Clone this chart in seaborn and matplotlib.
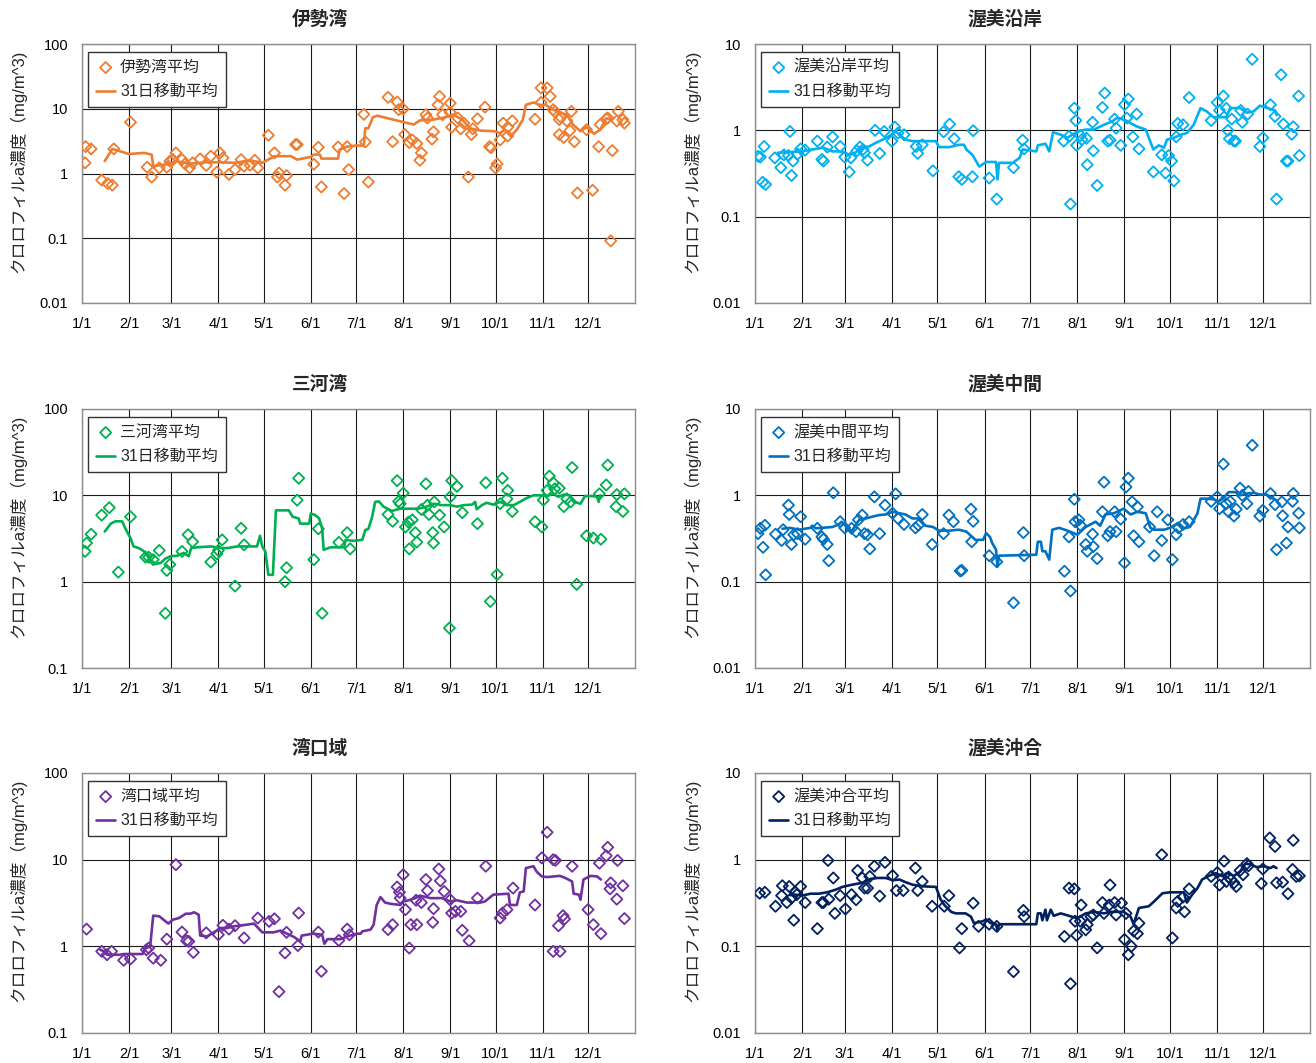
import matplotlib
matplotlib.use("Agg")
import matplotlib.pyplot as plt
import seaborn as sns
import pandas as pd
import numpy as np
from matplotlib.ticker import FixedLocator, NullLocator, FixedFormatter

# ---- data (day of year from 1/1, chlorophyll-a mg/m^3) ----
month_days = [0, 31, 59, 90, 120, 151, 181, 212, 243, 273, 304, 334]
month_labels = ['1/1', '2/1', '3/1', '4/1', '5/1', '6/1', '7/1', '8/1', '9/1', '10/1', '11/1', '12/1']

# 伊勢湾
ise_day = [2, 2.4, 6, 13, 17, 20, 21, 32, 43, 46, 51, 56, 58, 60, 62, 66, 68, 71, 73, 78, 82, 85, 89, 91, 93, 97,
           101, 105, 107, 111, 114, 116, 123, 127, 129, 130, 134, 135, 141, 142, 153, 156, 158, 169, 173, 175, 176,
           186, 187, 189, 202, 205, 208, 209, 212, 213, 216, 218, 221, 223, 224, 227, 228, 231, 232, 235, 236, 238,
           243, 243, 244, 248, 250, 252, 255, 257, 258, 261, 266, 269, 270, 273, 274, 276, 278, 281, 281, 284, 299,
           303, 303, 307, 309, 311, 312, 315, 315, 316, 318, 320, 322, 323, 325, 327, 333, 337, 341, 342, 346, 347,
           349, 350, 353, 354, 357, 358]
ise_val = [1.46, 2.6, 2.4, 0.79, 0.70, 0.66, 2.4, 6.2, 1.25, 0.88, 1.22, 1.25, 1.55, 1.64, 2.08, 1.64, 1.41, 1.22,
           1.46, 1.68, 1.33, 1.85, 1.05, 2.08, 1.74, 0.97, 1.15, 1.64, 1.30, 1.34, 1.6, 1.22, 3.9, 2.08, 0.88, 1.02,
           0.66, 0.93, 2.8, 2.8, 1.39, 2.54, 0.62, 2.57, 0.49, 2.6, 1.15,
           8.2, 3.07, 0.74, 15, 3.1, 12.7, 9.7, 9.9, 4.0, 3.0, 3.3, 2.9, 1.6, 2.08, 8.1, 7.2, 3.4, 4.4, 11.5, 15.5, 8.1,
           12.2, 8.8, 5.2, 7.2, 4.9, 6.0, 0.88, 4.0, 4.9, 7.0, 10.6, 2.6, 2.5, 1.22, 1.41, 3.3, 6.0, 5.2, 3.8, 6.5, 6.9,
           21, 12.5, 21, 15.5, 9.7, 9.0, 6.8, 4.0, 7.4, 3.6, 6.5, 4.6, 9.1, 3.1, 0.5, 4.75, 0.55, 2.6, 5.7, 7.0, 7.2,
           0.091, 2.26, 6.5, 9.1, 6.8, 6.0]
ise_ma_day = [15, 20, 31, 41, 46, 47, 56, 62, 71, 82, 91, 101, 111, 119, 127, 138, 142, 151, 153, 157, 158, 169, 170,
              175, 181, 186, 187, 189, 192, 195, 201, 210, 219, 223, 232, 240, 245, 251, 256, 263, 272, 276, 279, 283,
              287, 291, 293, 298, 302, 306, 311, 316, 320, 324, 329, 333, 338, 342, 346, 350]
ise_ma_val = [1.55, 2.4, 2.0, 2.08, 1.96, 1.3, 1.38, 1.55, 1.42, 1.49, 1.49, 1.46, 1.6, 1.46, 1.85, 1.85, 1.64, 1.8,
              1.96, 1.96, 1.7, 1.7, 2.34, 2.6, 2.7, 2.7, 5.0, 5.0, 7.4, 7.8, 7.2, 6.4, 5.7, 6.6, 6.8, 7.4, 8.1, 6.8,
              5.0, 4.6, 4.5, 4.2, 4.8, 3.75, 4.75, 6.8, 11.5, 12.5, 11.5, 11.5, 9.7, 8.6, 8.1, 5.7, 4.5, 5.2, 4.1,
              4.75, 7.1, 6.8]

# 渥美沿岸
engan_day = [2, 3.5, 5, 6, 7, 13, 17, 19, 22, 23, 24, 25, 28, 30, 33, 41, 44, 45, 47.5, 51, 56, 59, 62, 63, 67, 69,
             71, 72, 74, 79, 82, 85, 90, 92, 94, 98, 106, 107, 110, 117, 124, 128, 131, 134, 136, 143, 143.5, 154,
             159, 170, 176, 177,
             203, 206.5, 207.5, 210, 211, 211.5, 214, 215, 218, 218.5, 222, 222.5, 225, 228.5, 230, 232, 233.5,
             236.5, 237.5, 240.5, 243, 244.5, 245.5, 248.5, 251, 252.5, 262, 267.5, 270, 272, 274, 275.5, 277, 278,
             281.5, 285.5, 300, 304, 305.5, 308, 310, 311, 312, 313.5, 315, 316, 319.5, 320.5, 324, 327, 332, 334,
             339, 342, 343, 346, 347.5, 349.5, 350.5, 353, 354, 357.5, 358]
engan_val = [0.50, 0.49, 0.25, 0.65, 0.236, 0.48, 0.37, 0.52, 0.51, 0.97, 0.30, 0.44, 0.53, 0.61, 0.59, 0.75, 0.46,
             0.44, 0.64, 0.84, 0.65, 0.49, 0.33, 0.48, 0.58, 0.64, 0.6, 0.55, 0.45, 1.0, 0.54, 0.97, 0.75, 1.09, 0.93,
             0.89, 0.65, 0.54, 0.68, 0.34, 0.96, 1.18, 0.8, 0.29, 0.27, 0.29, 0.99, 0.28, 0.16, 0.37, 0.77, 0.61,
             0.75, 0.85, 0.14, 1.81, 1.3, 0.67, 0.87, 0.78, 0.81, 0.40, 1.24, 0.58, 0.23, 1.84, 2.7, 0.75, 0.77,
             1.35, 1.06, 0.67, 1.98, 1.39, 2.3, 0.84, 1.54, 0.61, 0.33, 0.52, 0.32, 0.51, 0.44, 0.26, 0.84, 1.2,
             1.16, 2.4, 1.3, 2.1, 1.7, 2.5, 1.8, 1.0, 0.8, 1.35, 0.75, 0.75, 1.7, 1.24, 1.54, 6.65, 0.65, 0.82,
             1.98, 1.45, 0.16, 4.4, 1.18, 0.44, 0.44, 0.9, 1.1, 2.5, 0.51]
engan_ma_day = [15, 31, 40, 45, 51, 57, 62, 66, 70, 75, 79, 84, 88, 92.5, 95, 99, 103.5, 119, 121, 128, 134, 137.5,
                139, 143, 147.5, 152, 158.5, 159.5, 160.5, 169.5, 174, 176, 185, 186, 191, 193.5, 196, 201, 205.5,
                212, 217.5, 223, 229.5, 235, 238, 243, 247, 251, 257, 259, 262, 265.5, 269, 271, 275.5, 280, 284,
                288.5, 293, 297, 301.5, 310, 312.5, 319, 323.5, 328, 332, 337, 342, 343]
engan_ma_val = [0.55, 0.57, 0.61, 0.63, 0.57, 0.57, 0.52, 0.55, 0.63, 0.65, 0.71, 0.78, 0.85, 0.97, 0.89, 0.78,
                0.75, 0.75, 0.64, 0.64, 0.68, 0.68, 0.6, 0.52, 0.38, 0.43, 0.43, 0.27, 0.42, 0.42, 0.48, 0.6, 0.57,
                0.67, 0.7, 0.57, 0.95, 0.89, 0.82, 0.97, 1.02, 1.02, 1.16, 1.27, 1.39, 1.33, 1.21, 1.11, 1.02, 0.82,
                0.6, 0.67, 0.63, 0.78, 0.82, 0.89, 0.93, 1.16, 1.81, 1.66, 1.42, 1.42, 1.81, 1.81, 1.6, 1.66, 1.93,
                1.81, 1.7, 1.5]

# 三河湾
mikawa_day = [2, 3, 6, 13, 18, 24, 32, 42, 44, 47, 51, 55, 56, 58, 66, 70, 73, 85, 89, 90, 92.5, 101, 105, 107, 134,
              135, 142, 143, 153, 156, 158.5, 169.5, 175, 177,
              202, 205, 208, 209, 210, 212, 213.5, 215.5, 216, 218, 220, 221, 224, 227, 228, 229, 231.5, 232, 232.5,
              236, 239, 242.5, 243, 244, 247.5, 251, 261, 266.5, 269.5, 274, 276, 277.5, 280.5, 281, 284, 299,
              303.5, 304.5, 307, 308.5, 311, 312, 315, 318, 320, 322.5, 323.5, 326.5, 333, 337.5, 341.5, 342.5, 346,
              347, 352.5, 353, 357, 358]
mikawa_val = [2.24, 2.8, 3.55, 5.9, 7.2, 1.29, 5.65, 1.92, 1.92, 1.8, 2.3, 0.43, 1.35, 1.58, 2.24, 3.5, 2.9, 1.69, 2.1,
              2.3, 3.05, 0.89, 4.15, 2.67, 1.0, 1.45, 8.8, 15.8, 1.8, 4.1, 0.43, 2.85, 3.7, 2.4,
              6.0, 5.0, 14.8, 8.5, 8.0, 10.6, 4.3, 4.9, 2.4, 5.2, 3.7, 2.87, 6.85, 13.6, 7.7, 6.0, 3.7, 2.8, 8.4, 5.9,
              4.3, 0.29, 9.6, 14.8, 12.7, 6.3, 4.7, 14, 0.59, 1.21, 8.0, 15.8, 9.1, 11.4, 6.5, 4.95, 4.3, 8.8, 11.4,
              16.7, 14, 11.9, 12.1, 7.4, 9.1, 8.4, 21, 0.93, 3.4, 3.2, 10.4, 3.1, 13.2, 22.4, 7.4, 10.2, 6.5, 10.4]
mikawa_ma_day = [15, 19, 22, 26.5, 29, 32, 34, 37.5, 41, 45, 48.5, 52, 55, 58.5, 63, 67, 70.5, 72, 76, 85, 91.5, 96,
                 102.5, 115.5, 117.5, 119, 121, 123, 126, 128, 136.5, 139, 143, 144, 150, 151, 154, 156.5, 158.5,
                 159.5, 164, 173, 174, 179, 185, 187, 189, 191.5, 193.5, 196, 199, 204.5, 210, 222, 227.5, 232,
                 237.5, 243, 247.5, 252, 257.5, 259.5, 260.5, 264, 267, 271.5, 276, 280.5, 285, 289, 293.5, 298,
                 302.5, 307, 311, 314.5, 318, 322, 324.5, 329, 332, 337.5, 340, 341, 342]
mikawa_ma_val = [3.8, 4.7, 5.0, 5.0, 4.0, 3.2, 2.56, 2.45, 2.24, 1.8, 1.6, 1.65, 1.85, 1.97, 2.0, 2.15, 1.97, 2.45,
                 2.5, 2.56, 2.45, 2.45, 2.56, 2.56, 3.4, 2.56, 2.24, 1.2, 1.2, 6.7, 6.7, 5.65, 5.4, 4.7, 4.7, 6.15,
                 5.9, 5.4, 4.15, 2.34, 2.5, 2.5, 3.05, 2.97, 3.05, 3.97, 4.07, 5.65, 8.4, 8.5, 7.4, 6.6, 7.0, 7.0,
                 7.4, 8.0, 7.7, 7.7, 7.4, 7.7, 7.8, 8.4, 6.9, 7.7, 8.2, 7.8, 8.4, 7.7, 7.7, 8.4, 9.3, 10.0, 10.0, 9.8,
                 10.4, 9.6, 10.2, 10.0, 8.4, 8.0, 9.8, 9.8, 9.6, 8.4, 10.0]

# 渥美中間
chukan_day = [2, 3.5, 5.3, 6.5, 7, 13.5, 17.5, 18.5, 22, 22.5, 24, 25.5, 28, 30, 33, 41, 44, 45, 47.5, 48.5, 51.5,
              56, 59, 63.5, 66.5, 68, 70.5, 72, 74, 75.5, 78.5, 82, 85.5, 90.5, 92.5, 94, 98, 105.5, 107.5, 110,
              116.5, 124, 127.5, 130.5, 135, 136, 142, 142.5, 143.5, 154, 159, 170, 176.5, 177,
              203.5, 206.5, 207.5, 210, 210.5, 213, 214, 217.5, 218.5, 222, 222.5, 225, 228.5, 229.5, 232, 233.5,
              236.5, 237.5, 240.5, 243, 244, 245.5, 248, 249, 251.5, 252.5, 259.5, 262.5, 264.5, 267.5, 271.5,
              274.5, 277, 278.5, 281.5, 285.5, 300, 304, 305.5, 308, 310, 311.5, 312.5, 315, 316.5, 319, 320.5,
              323.5, 324.5, 327, 332, 334, 339, 342, 343, 346.5, 347, 349.5, 350.5, 353.5, 354, 357.5, 358]
chukan_val = [0.36, 0.415, 0.25, 0.45, 0.12, 0.355, 0.30, 0.40, 0.77, 0.60, 0.27, 0.35, 0.36, 0.565, 0.31, 0.415,
              0.33, 0.31, 0.27, 0.175, 1.07, 0.495, 0.42, 0.415, 0.38, 0.52, 0.59, 0.36, 0.35, 0.24, 0.96, 0.36,
              0.77, 0.62, 1.04, 0.54, 0.46, 0.42, 0.45, 0.6, 0.27, 0.36, 0.59, 0.495, 0.133, 0.135, 0.69, 0.29, 0.5,
              0.2, 0.17, 0.057, 0.37, 0.2,
              0.132, 0.33, 0.078, 0.9, 0.495, 0.52, 0.45, 0.27, 0.225, 0.355, 0.255, 0.185, 0.645, 1.42, 0.34, 0.38,
              0.645, 0.38, 0.53, 0.165, 1.25, 1.58, 0.84, 0.34, 0.735, 0.29, 0.43, 0.2, 0.645, 0.30, 0.52, 0.18,
              0.35, 0.42, 0.46, 0.495, 0.85, 0.96, 0.70, 2.3, 0.80, 0.645, 0.85, 0.575, 0.69, 1.21, 1.0, 0.80, 1.11,
              3.8, 0.575, 0.67, 1.05, 0.78, 0.235, 0.84, 0.58, 0.28, 0.43, 0.85, 1.05, 0.62, 0.42]
chukan_ma_day = [18, 23, 29, 36.5, 37.5, 40, 44, 51, 55, 57, 62, 64, 66, 68.5, 73, 77, 81.5, 86, 90.5, 95, 99, 103.5,
                 108, 112, 117, 121, 128, 134, 139, 142, 145, 150, 152, 154.5, 156, 158.5, 159.5, 160.5, 185, 186,
                 188, 189, 191, 193.5, 195.5, 200, 205.5, 212, 217.5, 224, 227, 230.5, 236, 242.5, 247, 251.5, 257,
                 260, 262.5, 269, 273, 277.5, 282, 286, 291, 293, 297, 301.5, 305, 308, 311.5, 316, 319, 324, 328,
                 332, 336.5, 341, 343]
chukan_ma_val = [0.41, 0.42, 0.40, 0.42, 0.445, 0.415, 0.42, 0.43, 0.46, 0.495, 0.40, 0.39, 0.45, 0.52, 0.54, 0.565,
                 0.59, 0.60, 0.645, 0.62, 0.60, 0.54, 0.54, 0.445, 0.43, 0.39, 0.39, 0.40, 0.38, 0.34, 0.305, 0.305,
                 0.365, 0.33, 0.28, 0.235, 0.15, 0.2, 0.205, 0.29, 0.29, 0.225, 0.225, 0.18, 0.40, 0.42, 0.39, 0.35,
                 0.43, 0.495, 0.445, 0.60, 0.62, 0.70, 0.60, 0.645, 0.62, 0.42, 0.40, 0.40, 0.42, 0.47, 0.415, 0.43,
                 0.62, 0.915, 0.915, 0.90, 0.85, 0.93, 1.09, 1.09, 1.0, 1.05, 1.07, 1.02, 1.02, 0.915, 0.875]

# 湾口域
wankou_day = [3, 13, 16.5, 19.5, 27.5, 32, 42.5, 44, 47, 52, 56, 62, 66, 69, 70.5, 73.5, 82, 90, 93, 97, 101, 107,
              116, 123.5, 127, 130, 134, 135, 142.5, 143, 156, 158, 169.5, 175, 176.5,
              202, 205, 208, 209.5, 210, 212, 213.5, 216, 217, 220.5, 221, 224, 227, 228, 231.5, 232, 235.5, 236.5,
              239, 243, 244, 246.5, 250, 251, 255.5, 261, 266.5, 276, 277.5, 280.5, 284.5, 299, 303.5, 307, 311,
              311, 312.5, 314.5, 315.5, 317.5, 318.5, 323.5, 334, 337.5, 341.5, 342.5, 346, 347, 348.5, 349, 353,
              353.5, 357, 358]
wankou_val = [1.58, 0.875, 0.80, 0.875, 0.69, 0.715, 0.915, 0.955, 0.73, 0.69, 1.21, 8.75, 1.46, 1.16, 1.14, 0.85,
              1.43, 1.36, 1.75, 1.58, 1.73, 1.25, 2.12, 1.94, 2.08, 0.30, 0.84, 1.45, 1.02, 2.42, 1.46, 0.515, 1.17,
              1.58, 1.36,
              1.56, 1.78, 4.84, 4.2, 3.6, 6.7, 2.65, 0.955, 1.78, 3.4, 1.78, 3.2, 5.9, 4.4, 1.89, 2.72, 7.8, 5.7,
              4.3, 3.45, 2.42, 2.53, 2.53, 1.53, 1.16, 3.6, 8.4, 2.12, 2.42, 2.65, 4.7, 3.0, 10.5, 20.7, 10.0,
              0.875, 9.8, 1.73, 0.875, 2.26, 2.07, 8.4, 2.65, 1.78, 9.1, 1.4, 11.1, 13.9, 4.6, 5.4, 3.5, 9.8, 5.0,
              2.09]
wankou_ma_day = [12, 14.5, 16.5, 24.5, 27.5, 40, 42, 45, 47, 51, 57, 60, 64, 68.5, 71.5, 74, 77, 78, 82.5, 87, 91.5,
                 96, 100, 109, 113.5, 119, 126.5, 131, 140, 144, 145, 152.5, 158.5, 160, 162, 170.5, 175, 181.5,
                 184, 185, 190.5, 192.5, 194.5, 197, 200, 203.5, 210, 212, 215.5, 220, 223, 230, 237.5, 243, 247.5,
                 254, 263, 266, 271.5, 281.5, 282.5, 287, 289, 291.5, 293, 298, 300, 303.5, 307, 315.5, 319, 323.5,
                 324.5, 328, 329, 331, 335.5, 340, 342.5]
wankou_ma_val = [0.915, 0.875, 0.80, 0.80, 0.815, 0.815, 0.955, 1.0, 2.26, 2.22, 1.83, 2.03, 2.12, 2.38, 2.38, 2.47,
                 2.32, 1.33, 1.30, 1.45, 1.63, 1.63, 1.70, 1.78, 1.83, 1.45, 1.45, 1.52, 1.28, 1.14, 1.33, 1.40,
                 1.36, 1.07, 1.21, 1.21, 1.30, 1.40, 1.40, 1.49, 1.56, 1.78, 3.0, 3.7, 3.2, 3.1, 3.0, 3.3, 3.4, 3.6,
                 3.85, 3.6, 3.6, 3.3, 3.4, 3.2, 3.2, 3.3, 3.95, 4.05, 3.0, 3.0, 4.2, 4.3, 8.0, 8.4, 7.3, 6.4, 6.3,
                 6.5, 6.15, 5.6, 4.05, 3.95, 3.45, 5.9, 6.5, 6.4, 5.9]

# 渥美沖合
okiai_day = [3, 6.5, 13.5, 17.5, 18, 21, 22.5, 24, 25.5, 26.5, 27.5, 30, 33, 41, 44, 45, 48, 48.5, 51.5, 52.5, 56,
             59.5, 63.5, 66.5, 67.5, 70.5, 72, 74, 75.5, 78.5, 82, 85.5, 90.5, 93, 97.5, 105.5, 107, 110, 116.5,
             124.5, 127.5, 134.5, 136, 143.5, 147, 154, 159, 170, 176.5, 177,
             203.5, 206.5, 207.5, 210, 210.5, 211.5, 214, 214.5, 217.5, 218.5, 221, 222.5, 225, 228.5, 229.5, 233,
             233.5, 236.5, 237.5, 241, 243, 244, 245.5, 247.5, 249, 251.5, 252.5, 267.5, 274.5, 277, 278, 281.5,
             282.5, 285.5, 300, 304, 305.5, 308.5, 310, 311.5, 313, 315, 316.5, 319, 321, 323.5, 324.5, 333, 334,
             338.5, 342, 343, 347, 350.5, 353.5, 354, 356, 358]
okiai_val = [0.41, 0.42, 0.29, 0.385, 0.50, 0.32, 0.49, 0.36, 0.20, 0.42, 0.395, 0.49, 0.32, 0.16, 0.32, 0.32, 0.98,
             0.35, 0.615, 0.24, 0.385, 0.27, 0.395, 0.345, 0.75, 0.615, 0.47, 0.47, 0.64, 0.84, 0.38, 0.93, 0.655,
             0.44, 0.44, 0.80, 0.44, 0.56, 0.29, 0.29, 0.385, 0.096, 0.16, 0.315, 0.17, 0.18, 0.17, 0.051, 0.26,
             0.22,
             0.13, 0.47, 0.037, 0.46, 0.195, 0.134, 0.195, 0.30, 0.155, 0.178, 0.22, 0.23, 0.096, 0.32, 0.24, 0.30,
             0.51, 0.32, 0.23, 0.315, 0.12, 0.24, 0.08, 0.1, 0.15, 0.14, 0.185, 1.14, 0.125, 0.277, 0.33, 0.37,
             0.25, 0.46, 0.64, 0.71, 0.51, 0.96, 0.56, 0.63, 0.59, 0.54, 0.49, 0.75, 0.67, 0.90, 0.85, 0.53, 0.78,
             1.78, 1.42, 0.54, 0.55, 0.405, 0.77, 1.67, 0.64, 0.65]
okiai_ma_day = [23, 26.5, 31, 36.5, 42, 47.5, 53, 57.5, 64, 70.5, 76, 80.5, 86, 90.5, 95, 99, 103.5, 108, 112.5, 119,
                122, 124.5, 129, 132, 138.5, 142, 144, 150, 152, 155, 158.5, 159.5, 160.5, 185, 186, 188, 189, 191,
                192, 194.5, 196.5, 201, 206.5, 212, 217.5, 223, 229.5, 234, 242.5, 247, 249, 252.5, 259, 262.5, 268,
                273, 282, 284, 287.5, 291, 294, 298.5, 303, 307, 310.5, 315, 319, 322.5, 326, 330, 334.5, 339, 341,
                343]
okiai_ma_val = [0.39, 0.395, 0.385, 0.405, 0.405, 0.42, 0.45, 0.485, 0.515, 0.54, 0.60, 0.615, 0.615, 0.58, 0.59,
                0.55, 0.515, 0.50, 0.49, 0.485, 0.35, 0.30, 0.25, 0.24, 0.24, 0.22, 0.185, 0.195, 0.205, 0.185, 0.18,
                0.15, 0.18, 0.18, 0.24, 0.24, 0.20, 0.265, 0.20, 0.265, 0.225, 0.24, 0.225, 0.21, 0.24, 0.25, 0.24,
                0.25, 0.25, 0.22, 0.18, 0.277, 0.29, 0.33, 0.41, 0.42, 0.42, 0.32, 0.395, 0.47, 0.59, 0.65, 0.70,
                0.65, 0.70, 0.65, 0.73, 0.90, 0.88, 0.82, 0.84, 0.80, 0.84, 0.80]

# ---- style ----
sns.set_style("white")
plt.rcParams['font.family'] = ['Liberation Sans', 'Noto Sans CJK JP', 'DejaVu Sans']
plt.rcParams['axes.unicode_minus'] = False

fig = plt.figure(figsize=(13.16, 10.63), dpi=100)

W, H = 1316, 1063
col_x = [(82, 553), (755, 555)]
row_y = [(44, 303), (409, 668), (773, 1033)]
title_cx = [320, 1005]   # title centre (pixels), centred on the chart area in the original
ylab_cx = [26, 700]      # right edge of the rotated y label (pixels)

panels = [
    ('伊勢湾', '伊勢湾平均', '#ED7D31', (0.01, 100), ise_day, ise_val, ise_ma_day, ise_ma_val, 0, 0),
    ('渥美沿岸', '渥美沿岸平均', '#00B0F0', (0.01, 10), engan_day, engan_val, engan_ma_day, engan_ma_val, 0, 1),
    ('三河湾', '三河湾平均', '#00B050', (0.1, 100), mikawa_day, mikawa_val, mikawa_ma_day, mikawa_ma_val, 1, 0),
    ('渥美中間', '渥美中間平均', '#0070C0', (0.01, 10), chukan_day, chukan_val, chukan_ma_day, chukan_ma_val, 1, 1),
    ('湾口域', '湾口域平均', '#7030A0', (0.1, 100), wankou_day, wankou_val, wankou_ma_day, wankou_ma_val, 2, 0),
    ('渥美沖合', '渥美沖合平均', '#002060', (0.01, 10), okiai_day, okiai_val, okiai_ma_day, okiai_ma_val, 2, 1),
]

for title, lbl, color, ylim, d, v, md, mv, r, c in panels:
    x0, w = col_x[c]
    yt, yb = row_y[r]
    h = yb - yt
    ax = fig.add_axes([x0 / W, 1 - yb / H, w / W, h / H])

    pts = pd.DataFrame({'day': d, 'val': v})
    ma = pd.DataFrame({'day': md, 'val': mv})

    sns.scatterplot(data=pts, x='day', y='val', ax=ax, marker='D', s=32,
                    facecolors='none', edgecolor=color, color=color, linewidth=1.3,
                    label=lbl, zorder=3)
    sns.lineplot(data=ma, x='day', y='val', ax=ax, color=color, linewidth=1.9,
                 estimator=None, sort=False, label='31日移動平均', zorder=4)

    ax.set_yscale('log')
    ax.set_ylim(*ylim)
    ax.set_xlim(0, 365)

    decades = [10.0 ** k for k in range(int(np.log10(ylim[0])), int(np.log10(ylim[1])) + 1)]
    ax.yaxis.set_major_locator(FixedLocator(decades))
    ax.yaxis.set_major_formatter(FixedFormatter([('%g' % t) for t in decades]))
    ax.yaxis.set_minor_locator(NullLocator())
    ax.set_xticks(month_days)
    ax.set_xticklabels(month_labels)

    ax.grid(True, which='major', color='#1a1a1a', linewidth=0.8)
    ax.set_axisbelow(True)
    for s in ax.spines.values():
        s.set_color('#8c8c8c')
        s.set_linewidth(1.0)
    ax.tick_params(axis='both', length=0, labelsize=10.5, colors='black')
    ax.tick_params(axis='x', pad=10)
    ax.tick_params(axis='y', pad=10)

    ax.set_xlabel('')
    ax.set_ylabel('クロロフィルa濃度（mg/m^3)', fontsize=12)
    ax.yaxis.set_label_coords((ylab_cx[c] - x0) / w, (yb - (yt + 117)) / h)

    ax.set_title(title, fontsize=13.5, fontweight='bold', pad=14,
                 x=(title_cx[c] - x0) / w)

    leg = ax.legend(loc='upper left', bbox_to_anchor=(0.011, 0.97), borderaxespad=0,
                    fontsize=11.5, frameon=True, fancybox=False, framealpha=1,
                    handlelength=1.2, handletextpad=0.3, labelspacing=0.6,
                    borderpad=0.5)
    leg.get_frame().set_edgecolor('#333333')
    leg.get_frame().set_linewidth(1.0)

fig.savefig('out.png', dpi=100)
